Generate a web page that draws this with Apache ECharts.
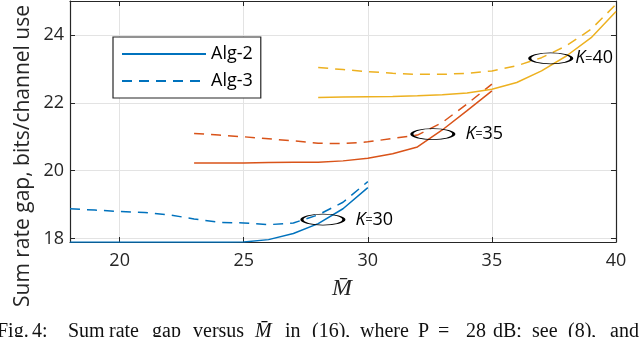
<!doctype html>
<html lang="en">
<head>
    <meta charset="utf-8">
    <title>Sum rate gap</title>
    <script src="https://cdn.jsdelivr.net/npm/echarts@6.0.0/dist/echarts.min.js"></script>
</head>
<body style="margin:0">
    <div id="main" style="width:640px; height:337px;"></div>
    <script type="text/javascript">
        // data
        var xK30 = [18, 19, 20, 21, 22, 23, 24, 25, 26, 27, 28, 29, 30];
        var xK35 = [23, 24, 25, 26, 27, 28, 29, 30, 31, 32, 33, 34, 35];
        var xK40 = [28, 29, 30, 31, 32, 33, 34, 35, 36, 37, 38, 39, 40];

        var alg2K30 = [17.89, 17.89, 17.89, 17.89, 17.89, 17.89, 17.89, 17.9, 17.97, 18.15, 18.44, 18.88, 19.5];
        var alg3K30 = [18.88, 18.84, 18.8, 18.77, 18.7, 18.58, 18.48, 18.46, 18.41, 18.46, 18.7, 19.07, 19.68];
        var alg2K35 = [20.23, 20.23, 20.23, 20.24, 20.25, 20.25, 20.29, 20.37, 20.5, 20.7, 21.2, 21.77, 22.35];
        var alg3K35 = [21.1, 21.05, 21.0, 20.94, 20.88, 20.81, 20.8, 20.85, 20.95, 21.05, 21.42, 21.97, 22.55];
        var alg2K40 = [22.16, 22.17, 22.18, 22.19, 22.21, 22.24, 22.29, 22.4, 22.6, 22.94, 23.38, 23.92, 24.69];
        var alg3K40 = [23.04, 22.98, 22.92, 22.87, 22.84, 22.84, 22.87, 22.94, 23.09, 23.33, 23.68, 24.17, 24.9];

        var xTicks = [20, 25, 30, 35, 40];
        var yTicks = [18, 20, 22, 24];

        // ellipse markers: [x, y, label, gap]
        var kMarks = [[28.19, 18.56, '30', 10], [32.62, 21.08, '35', 10], [37.37, 23.31, '40', 2]];

        // caption words and their left x
        var caption = [['Fig.', -3], ['4:', 32], ['Sum', 68], ['rate', 109], ['gap', 152], ['versus', 193],
            ['M\u0304', 255, true], ['in', 285], ['(16),', 312], ['where', 360], ['P', 418], ['=', 438],
            ['28', 466], ['dB;', 493], ['see', 532], ['(8),', 568], ['and', 610]];

        var blue = '#0072BD', orange = '#D95319', yellow = '#EDB120';
        var dash = [10, 7];
        var font = '"Open Sans", sans-serif';
        var serif = '"Liberation Serif", serif';

        function pairs(xs, ys) {
            return xs.map(function (x, i) { return [x, ys[i]]; });
        }

        function line(name, xs, ys, color, dashed) {
            return {
                name: name,
                type: 'line',
                data: pairs(xs, ys),
                symbol: 'none',
                silent: true,
                animation: false,
                lineStyle: { color: color, width: 1.5, type: dashed ? dash : 'solid' },
                itemStyle: { color: color }
            };
        }

        var series = [
            line('Alg-2', xK30, alg2K30, blue, false),
            line('Alg-3', xK30, alg3K30, blue, true),
            line('K35-2', xK35, alg2K35, orange, false),
            line('K35-3', xK35, alg3K35, orange, true),
            line('K40-2', xK40, alg2K40, yellow, false),
            line('K40-3', xK40, alg3K40, yellow, true)
        ];

        series.push({
            type: 'scatter',
            data: [],
            silent: true,
            markPoint: {
                silent: true,
                animation: false,
                data: kMarks.map(function (m) {
                    return {
                        coord: [m[0], m[1]],
                        symbol: 'circle',
                        symbolSize: [42, 11],
                        itemStyle: { color: 'rgba(0,0,0,0)', borderColor: '#000', borderWidth: 1.6 },
                        label: {
                            show: true,
                            position: 'right',
                            distance: m[3],
                            formatter: '{k|K}={n|' + m[2] + '}',
                            rich: {
                                k: { fontFamily: font, fontStyle: 'italic', fontSize: 18, color: '#000' },
                                n: { fontFamily: font, fontSize: 18, color: '#000' }
                            }
                        }
                    };
                })
            }
        });

        var axisCol = '#262626';

        function xAx(pos, labels) {
            return {
                type: 'value', position: pos, min: 18, max: 40,
                axisLine: { show: true, onZero: false, lineStyle: { color: axisCol, width: 1.2 } },
                axisTick: { show: true, inside: true, length: 5, customValues: xTicks, lineStyle: { color: axisCol } },
                axisLabel: { show: labels, customValues: xTicks, color: axisCol, fontSize: 18, fontFamily: font, margin: 10 },
                splitLine: { show: labels, lineStyle: { color: '#e3e3e3', width: 1 } }
            };
        }
        function yAx(pos, labels) {
            return {
                type: 'value', position: pos, min: 17.9, max: 25,
                axisLine: { show: true, onZero: false, lineStyle: { color: axisCol, width: 1.2 } },
                axisTick: { show: true, inside: true, length: 5, customValues: yTicks, lineStyle: { color: axisCol } },
                axisLabel: { show: labels, customValues: yTicks, color: axisCol, fontSize: 18, fontFamily: font, margin: 6 },
                splitLine: { show: labels, lineStyle: { color: '#e3e3e3', width: 1 } }
            };
        }

        var graphics = [
            {
                type: 'text', x: 23, y: 156, rotation: Math.PI / 2,
                style: {
                    text: 'Sum rate gap, bits/channel use', fontFamily: font, fontSize: 21,
                    fill: axisCol, align: 'center', verticalAlign: 'middle'
                }
            },
            {
                type: 'text', x: 342, y: 289,
                style: {
                    text: 'M\u0304', fontFamily: serif, fontStyle: 'italic', fontSize: 24,
                    fill: axisCol, align: 'center', verticalAlign: 'middle'
                }
            }
        ];
        caption.forEach(function (w) {
            graphics.push({
                type: 'text', x: w[1], y: 332,
                style: {
                    text: w[0], fontFamily: serif, fontSize: 20, fontStyle: w[2] ? 'italic' : 'normal',
                    fill: '#111', align: 'left', verticalAlign: 'middle'
                }
            });
        });

        var chart = echarts.init(document.getElementById('main'));
        var option = {
            backgroundColor: '#fff',
            animation: false,
            grid: { left: 70, right: 24, top: 1, bottom: 95 },
            xAxis: [xAx('bottom', true), xAx('top', false)],
            yAxis: [yAx('left', true), yAx('right', false)],
            legend: {
                data: ['Alg-2', 'Alg-3'],
                orient: 'vertical',
                left: 113, top: 37,
                padding: [7, 8, 7, 8],
                itemWidth: 84, itemHeight: 14, itemGap: 7,
                borderColor: '#262626', borderWidth: 1.2,
                backgroundColor: '#fff',
                selectedMode: false,
                itemStyle: { opacity: 0 },
                textStyle: { fontFamily: font, fontSize: 18, color: '#000', lineHeight: 20 }
            },
            series: series,
            graphic: graphics
        };
        chart.setOption(option);
    </script>
</body>
</html>
